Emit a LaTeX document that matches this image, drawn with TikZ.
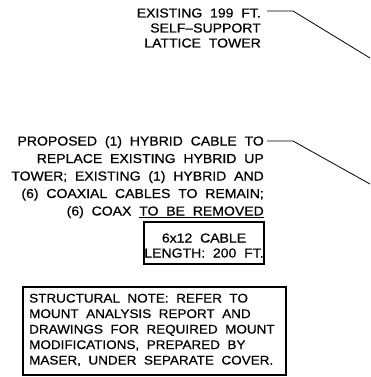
\documentclass[tikz,border=0pt]{standalone}
\usepackage{fontspec}
\setmainfont{Liberation Sans}[FakeStretch=1.08, WordSpace=2.0, FakeBold=0.6]
\begin{document}
\begin{tikzpicture}[x=1pt,y=-1pt,
  lbl/.style={inner sep=0pt, align=right, font=\fontsize{13}{15}\selectfont},
  leader/.style={line width=0.8pt},
  frame/.style={draw, line width=1.2pt, inner sep=0pt}]
\useasboundingbox (0,0) rectangle (370,377);

% tower callout (anchored on the baseline of its last line)
\node[lbl, anchor=base east] (tower) at (261,47.5)
  {EXISTING 199 FT.\\SELF--SUPPORT\\LATTICE TOWER};
\coordinate (t0) at (267,11);
\coordinate (t1) at (293,11);
\coordinate (t2) at (370,58);
\draw[leader] (t0) -- (t1) -- (t2);

% cable callout
\node[lbl, anchor=base east, font=\fontsize{13}{17.5}\selectfont] (cable) at (264,215.5)
  {PROPOSED (1) HYBRID CABLE TO\\REPLACE EXISTING HYBRID UP\\TOWER; EXISTING (1) HYBRID AND\\(6) COAXIAL CABLES TO REMAIN;\\(6) COAX \underline{TO BE REMOVED}};
\coordinate (c0) at (267,141);
\coordinate (c1) at (293,141);
\coordinate (c2) at (370,184);
\draw[leader] (c0) -- (c1) -- (c2);

% cable length tag
\node[frame, minimum width=120pt, minimum height=42pt] (lenbox) at (204,243) {};
\node[lbl, align=center, anchor=base] (len) at (204,257.5)
  {6x12 CABLE\\LENGTH: 200 FT.};

% structural note
\node[frame, minimum width=263pt, minimum height=88pt] (notebox) at (154.5,331) {};
\node[lbl, align=left, anchor=base west, font=\fontsize{12.5}{15.5}\selectfont] (note) at (29,364.5)
  {STRUCTURAL NOTE: REFER TO\\MOUNT ANALYSIS REPORT AND\\DRAWINGS FOR REQUIRED MOUNT\\MODIFICATIONS, PREPARED BY\\MASER, UNDER SEPARATE COVER.};
\end{tikzpicture}
\end{document}
